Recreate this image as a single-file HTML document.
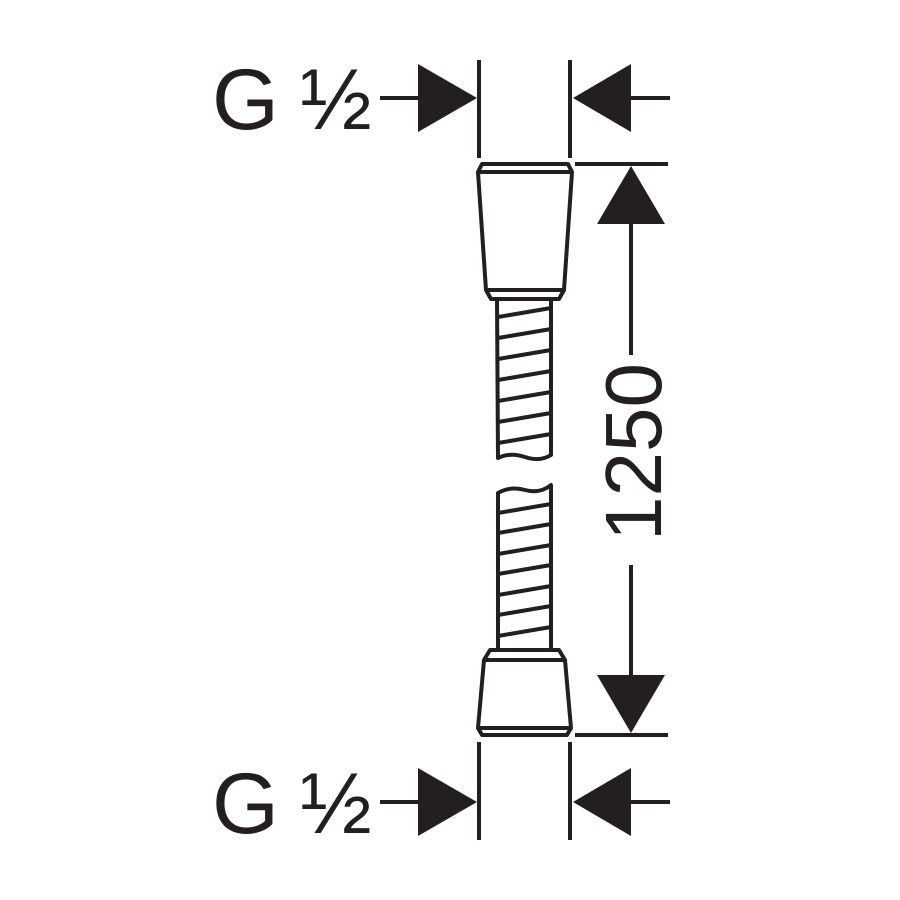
<!DOCTYPE html>
<html><head><meta charset="utf-8"><style>
html,body{margin:0;padding:0;background:#fff;}
svg{display:block}
text{font-family:"Liberation Sans",sans-serif;fill:#231f20}
</style></head><body>
<svg width="900" height="900" viewBox="0 0 900 900" xmlns="http://www.w3.org/2000/svg">
<g stroke="#231f20" stroke-width="4" fill="none" stroke-linejoin="round">
<line x1="380" y1="98" x2="420" y2="98"/>
<line x1="479" y1="60" x2="479" y2="158"/>
<line x1="570" y1="60" x2="570" y2="158"/>
<line x1="630" y1="98" x2="670" y2="98"/>
<line x1="380" y1="802" x2="420" y2="802"/>
<line x1="479" y1="742" x2="479" y2="840"/>
<line x1="570" y1="742" x2="570" y2="840"/>
<line x1="630" y1="802" x2="670" y2="802"/>
<line x1="575" y1="164" x2="668" y2="164"/>
<line x1="575" y1="735" x2="668" y2="735"/>
<line x1="631" y1="220" x2="631" y2="355"/>
<line x1="631" y1="565" x2="631" y2="680"/>
<path d="M478,172 L482,164 L568,164 L572,172 Z M478,172 L486,290 L564,290 L572,172 M486,290 L491,299 L559,299 L564,290 Z"/>
<path d="M497,299 L498,458 Q510,452 525,457 T551,455 L551,299"/>
<path d="M498,317 L551,308 M498,338 L551,329 M498,359 L551,350 M498,380 L551,371 M498,401 L551,392 M498,422 L551,413 M498,443 L551,434"/>
<path d="M498,650 L498,493 Q510,486 525,490 T551,485 L551,650"/>
<path d="M498,513 L551,504 M498,533 L551,524 M498,554 L551,545 M498,574 L551,565 M498,595 L551,586 M498,615 L551,606 M498,636 L551,627"/>
<path d="M490,650 L484,660 L565,660 L559,650 Z M484,660 L478,728 L571,728 L565,660 M478,728 L482,735 L567,735 L571,728 Z"/>
</g>
<g fill="#231f20">
<polygon points="418,64 418,132 477,98"/>
<polygon points="631,64 631,132 573,98"/>
<polygon points="418,768 418,836 477,802"/>
<polygon points="631,768 631,836 573,802"/>
<polygon points="631,166 597,224 665,224"/>
<polygon points="631,733 597,675 665,675"/>
</g>
<text x="212" y="129" font-size="86">G</text>
<text x="300" y="129" font-size="86">½</text>
<text x="212" y="833" font-size="86">G</text>
<text x="300" y="833" font-size="86">½</text>
<text transform="translate(661,452) rotate(-90)" text-anchor="middle" font-size="80" letter-spacing="0">1250</text>
</svg>
</body></html>
